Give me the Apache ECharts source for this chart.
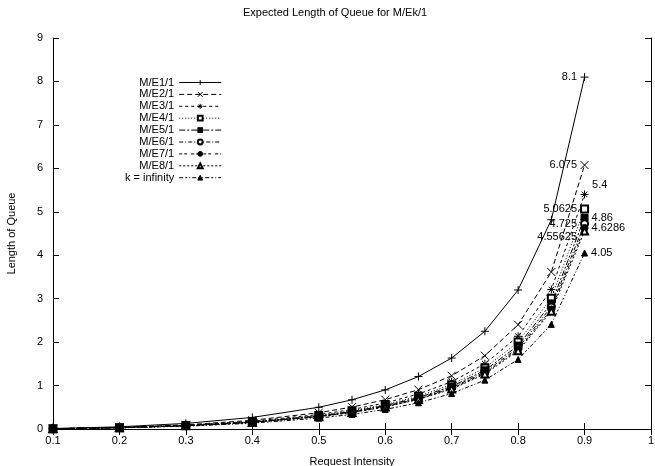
<!DOCTYPE html>
<html><head><meta charset="utf-8">
<script src="https://cdn.jsdelivr.net/npm/echarts@6/dist/echarts.min.js"></script>
<style>html,body{margin:0;padding:0;background:#fff}#c{width:655px;height:466px}</style>
</head><body><div id="c"></div>
<script>
const xValues = [0.1,0.2,0.3,0.4,0.5,0.55,0.6,0.65,0.7,0.75,0.8,0.85,0.9];
const names = ['M/E1/1','M/E2/1','M/E3/1','M/E4/1','M/E5/1','M/E6/1','M/E7/1','M/E8/1','k = infinity'];
const k1 = [0.0111,0.05,0.1286,0.2667,0.5,0.6722,0.9,1.2071,1.6333,2.25,3.2,4.8167,8.1];
const k2 = [0.0083,0.0375,0.0964,0.2,0.375,0.5042,0.675,0.9054,1.225,1.6875,2.4,3.6125,6.075];
const k3 = [0.0074,0.0333,0.0857,0.1778,0.3333,0.4481,0.6,0.8048,1.0889,1.5,2.1333,3.2111,5.4];
const k4 = [0.0069,0.0313,0.0804,0.1667,0.3125,0.4201,0.5625,0.7545,1.0208,1.4063,2.0,3.0104,5.0625];
const k5 = [0.0067,0.03,0.0771,0.16,0.3,0.4033,0.54,0.7243,0.98,1.35,1.92,2.89,4.86];
const k6 = [0.0065,0.0292,0.075,0.1556,0.2917,0.3921,0.525,0.7042,0.9528,1.3125,1.8667,2.8097,4.725];
const k7 = [0.0063,0.0286,0.0735,0.1524,0.2857,0.3841,0.5143,0.6898,0.9333,1.2857,1.8286,2.7524,4.6286];
const k8 = [0.0063,0.0281,0.0723,0.15,0.2813,0.3781,0.5063,0.679,0.9187,1.2656,1.8,2.7094,4.55625];
const kInf = [0.0056,0.025,0.0643,0.1333,0.25,0.3361,0.45,0.6036,0.8167,1.125,1.6,2.4083,4.05];
const endLabels = ['8.1','6.075','5.4','5.0625','4.86','4.725','4.6286','4.55625','4.05'];
const yTicks = [0,1,2,3,4,5,6,7,8,9];

const allData = [k1,k2,k3,k4,k5,k6,k7,k8,kInf];
const FONT = 'Liberation Sans';
const symbols = [
  'path://M5,0L5,10M0,5L10,5',
  'path://M0,0L10,10M10,0L0,10',
  'path://M5,0L5,10M0,5L10,5M1.5,1.5L8.5,8.5M8.5,1.5L1.5,8.5',
  'emptyRect','rect','emptyCircle','circle','emptyTriangle','triangle'
];
const symSizes = [8,8,8,7,7,7,7,7,6];
const dashes = ['solid',[5,3],[3,3],[1,2],[6,2,2,2],[4,2,1,2],[3,2,3,4],[2,2],[4,2,2,2,1,2]];
const labelPos = ['left','left','right','left','right','left','right','left','right'];
const labelOff = [[0,0],[0,0],[0,-9],[0,0],[0,0],[0,0],[0,0],[0,6],[0,0]];

const series = allData.map((arr, s) => ({
  name: names[s],
  type: 'line',
  symbol: symbols[s],
  symbolSize: symSizes[s],
  showAllSymbol: true,
  lineStyle: {color:'#000', width:1, type: dashes[s]},
  itemStyle: {color:'#000', borderColor:'#000', borderWidth:1},
  emphasis: {disabled:true},
  animation: false,
  data: arr.map((v,i) => i === arr.length-1 ? {
    value:[xValues[i], v],
    label:{show:true, formatter: endLabels[s], position: labelPos[s], offset: labelOff[s],
      distance: 3, color:'#000', fontFamily: FONT, fontSize: 11}
  } : [xValues[i], v])
}));

const chart = echarts.init(document.getElementById('c'), null, {renderer:'canvas'});
chart.setOption({
  backgroundColor:'#fff',
  animation:false,
  textStyle:{fontFamily:FONT, color:'#000'},
  title:{text:'Expected Length of Queue for M/Ek/1', left:243, top:7, padding:0,
    textStyle:{fontFamily:FONT, fontSize:11, fontWeight:'normal', color:'#000'}},
  grid:{left:53, right:4, top:38, bottom:37, show:false, outerBoundsMode:'none', containLabel:false},
  legend:{orient:'vertical', align:'right', left:125, top:77, padding:0,
    itemWidth:42, itemHeight:6, itemGap:0.9,
    lineStyle:{width:1},
    itemStyle:{borderWidth:1},
    textStyle:{fontFamily:FONT, fontSize:11, color:'#000'},
    data:names},
  xAxis:[{type:'value', min:0.1, max:1, interval:0.1,
    name:'Request Intensity', nameLocation:'middle', nameGap:27,
    nameTextStyle:{fontFamily:FONT, fontSize:11, color:'#000'},
    axisLine:{show:true, lineStyle:{color:'#000', width:1}},
    axisTick:{show:true, inside:true, length:6, lineStyle:{color:'#000'}},
    axisLabel:{margin:6, color:'#000', fontFamily:FONT, fontSize:11,
      formatter: v => String(Math.round(v*10)/10)},
    splitLine:{show:false}},
   {type:'value', position:'top', min:0.1, max:1, interval:0.1,
    axisLine:{show:true, lineStyle:{color:'#000', width:1}},
    axisTick:{show:true, inside:true, length:6, lineStyle:{color:'#000'}},
    axisLabel:{show:false}, splitLine:{show:false}}],
  yAxis:[{type:'value', min:yTicks[0], max:yTicks[yTicks.length-1], interval:1,
    name:'Length of Queue', nameLocation:'middle', nameGap:36,
    nameTextStyle:{fontFamily:FONT, fontSize:11, color:'#000'},
    axisLine:{show:true, lineStyle:{color:'#000', width:1}},
    axisTick:{show:true, inside:true, length:6, lineStyle:{color:'#000'}},
    axisLabel:{margin:10, color:'#000', fontFamily:FONT, fontSize:11},
    splitLine:{show:false}},
   {type:'value', position:'right', min:0, max:9, interval:1,
    axisLine:{show:true, lineStyle:{color:'#000', width:1}},
    axisTick:{show:true, inside:true, length:6, lineStyle:{color:'#000'}},
    axisLabel:{show:false}, splitLine:{show:false}}],
  series: series
});
</script></body></html>
